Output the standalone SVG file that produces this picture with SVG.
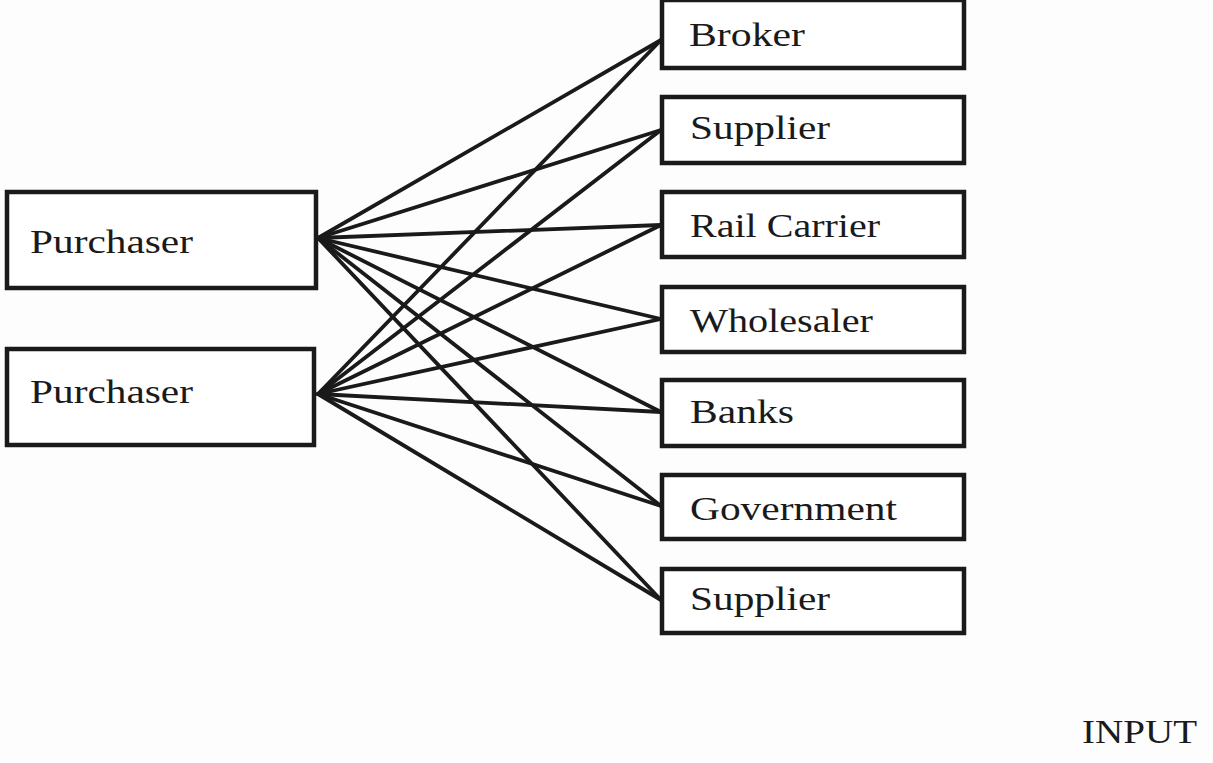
<svg xmlns="http://www.w3.org/2000/svg" width="1213" height="763" viewBox="0 0 1213 763">
  <style>
    .box { fill: #ffffff; stroke: #1a1a1a; stroke-width: 4.5; }
    .lbl { font-size: 33px; fill: #1a1a1a; }
    .link { stroke: #1a1a1a; stroke-width: 3.8; fill: none; stroke-linecap: round; }
  </style>
  <rect width="1213" height="763" fill="#fdfdfd"/>

  <!-- connectors: every purchaser links to every party on the right -->
  <g id="connectors">
    <line class="link" x1="318" y1="238" x2="661" y2="40"/>
    <line class="link" x1="318" y1="238" x2="661" y2="130"/>
    <line class="link" x1="318" y1="238" x2="661" y2="225"/>
    <line class="link" x1="318" y1="238" x2="661" y2="319"/>
    <line class="link" x1="318" y1="238" x2="661" y2="412"/>
    <line class="link" x1="318" y1="238" x2="661" y2="506"/>
    <line class="link" x1="318" y1="238" x2="661" y2="600"/>
    <line class="link" x1="318" y1="394" x2="661" y2="40"/>
    <line class="link" x1="318" y1="394" x2="661" y2="130"/>
    <line class="link" x1="318" y1="394" x2="661" y2="225"/>
    <line class="link" x1="318" y1="394" x2="661" y2="319"/>
    <line class="link" x1="318" y1="394" x2="661" y2="412"/>
    <line class="link" x1="318" y1="394" x2="661" y2="506"/>
    <line class="link" x1="318" y1="394" x2="661" y2="600"/>
  </g>

  <g font-family="Liberation Serif, Times New Roman, serif">
    <g id="purchaser-1">
      <rect class="box" x="7" y="192" width="309" height="96"/>
      <text class="lbl" x="30" y="253" textLength="163" lengthAdjust="spacingAndGlyphs">Purchaser</text>
    </g>
    <g id="purchaser-2">
      <rect class="box" x="7" y="349" width="307" height="96"/>
      <text class="lbl" x="30" y="403" textLength="163" lengthAdjust="spacingAndGlyphs">Purchaser</text>
    </g>

    <g id="broker">
      <rect class="box" x="662" y="0" width="302" height="68"/>
      <text class="lbl" x="689" y="46" textLength="116" lengthAdjust="spacingAndGlyphs">Broker</text>
    </g>
    <g id="supplier-1">
      <rect class="box" x="662" y="97" width="302" height="66"/>
      <text class="lbl" x="690" y="139" textLength="140" lengthAdjust="spacingAndGlyphs">Supplier</text>
    </g>
    <g id="rail-carrier">
      <rect class="box" x="662" y="192" width="302" height="65"/>
      <text class="lbl" x="690" y="237" textLength="190" lengthAdjust="spacingAndGlyphs">Rail Carrier</text>
    </g>
    <g id="wholesaler">
      <rect class="box" x="662" y="287" width="302" height="65"/>
      <text class="lbl" x="690" y="332" textLength="183" lengthAdjust="spacingAndGlyphs">Wholesaler</text>
    </g>
    <g id="banks">
      <rect class="box" x="662" y="380" width="302" height="66"/>
      <text class="lbl" x="690" y="423" textLength="104" lengthAdjust="spacingAndGlyphs">Banks</text>
    </g>
    <g id="government">
      <rect class="box" x="662" y="475" width="302" height="64"/>
      <text class="lbl" x="690" y="520" textLength="207" lengthAdjust="spacingAndGlyphs">Government</text>
    </g>
    <g id="supplier-2">
      <rect class="box" x="662" y="569" width="302" height="64"/>
      <text class="lbl" x="690" y="610" textLength="140" lengthAdjust="spacingAndGlyphs">Supplier</text>
    </g>

    <text class="lbl" x="1082" y="743" font-size="30" textLength="115" lengthAdjust="spacingAndGlyphs">INPUT</text>
  </g>
</svg>
